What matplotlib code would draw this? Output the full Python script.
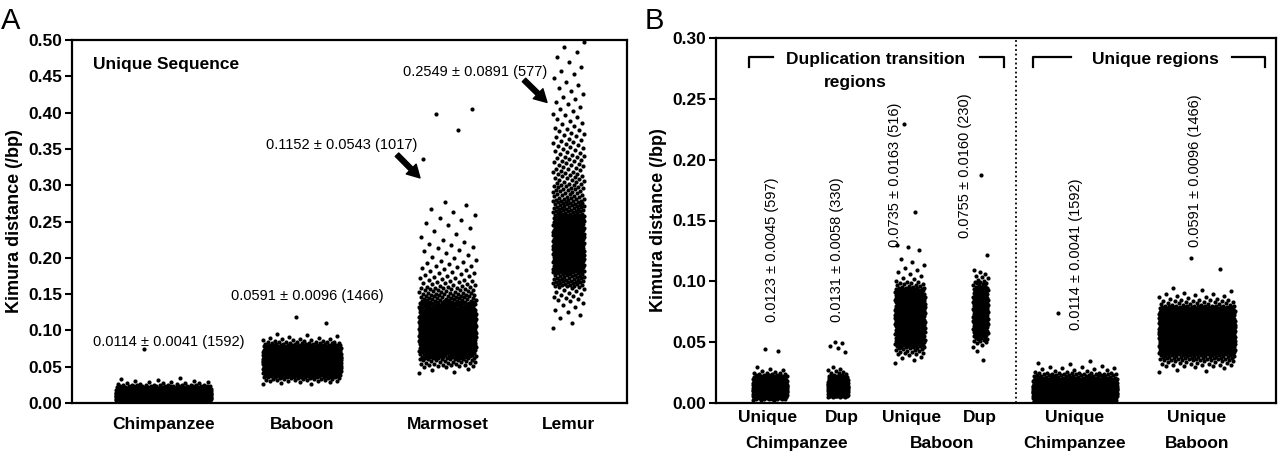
import numpy as np
import matplotlib.pyplot as plt

plt.rcParams['font.family'] = ['Liberation Sans', 'DejaVu Sans']

chimp_start, chimp_step = 0.0, 0.005
chimp_counts = [100, 600, 600, 220, 55, 12, 4]
chimp_out = [0.074]

baboon_start, baboon_step = 0.025, 0.005
baboon_counts = [5, 20, 45, 95, 160, 220, 250, 240, 190, 130, 70, 25, 10, 4]
baboon_out = [0.110, 0.119]

marmoset_start, marmoset_step = 0.04, 0.01
marmoset_counts = [5, 25, 50, 85, 120, 150, 155, 140, 100, 60, 35, 25, 15, 10, 8, 6,
                   4, 5, 3, 2, 3, 3, 2, 2]
marmoset_out = [0.336, 0.376, 0.398, 0.405]

lemur_start, lemur_step = 0.10, 0.02
lemur_counts = [3, 6, 15, 45, 80, 102, 90, 65, 45, 30, 22, 18, 15, 12, 8, 6, 5, 4, 3, 3]
lemur_out = []

# panel B, duplication transition regions
chimp_uniq_start, chimp_uniq_step = 0.0025, 0.0025
chimp_uniq_counts = [20, 60, 110, 130, 115, 75, 45, 25, 10, 3, 2]
chimp_uniq_out = [0.043, 0.044]

chimp_dup_start, chimp_dup_step = 0.005, 0.0025
chimp_dup_counts = [30, 55, 72, 65, 45, 30, 18, 5, 3, 2]
chimp_dup_out = [0.042, 0.045, 0.047, 0.049, 0.050]

baboon_uniq_start, baboon_uniq_step = 0.03, 0.005
baboon_uniq_counts = [1, 4, 12, 25, 35, 45, 55, 62, 62, 60, 52, 45, 30, 12, 4, 3, 2, 2]
baboon_uniq_out = [0.126, 0.128, 0.130, 0.157, 0.229]

baboon_dup_start, baboon_dup_step = 0.045, 0.005
baboon_dup_counts = [3, 10, 18, 25, 28, 28, 28, 28, 22, 18, 10, 5, 3]
baboon_dup_out = [0.035, 0.043, 0.122, 0.187]

labels_a = ["Chimpanzee", "Baboon", "Marmoset", "Lemur"]
stats_a = ["0.0114 ± 0.0041 (1592)", "0.0591 ± 0.0096 (1466)",
           "0.1152 ± 0.0543 (1017)", "0.2549 ± 0.0891 (577)"]
sub_b = ["Unique", "Dup", "Unique", "Dup", "Unique", "Unique"]
stats_b = ["0.0123 ± 0.0045 (597)", "0.0131 ± 0.0058 (330)", "0.0735 ± 0.0163 (516)",
           "0.0755 ± 0.0160 (230)", "0.0114 ± 0.0041 (1592)", "0.0591 ± 0.0096 (1466)"]


def expand(start, step, counts, outliers):
    vals = []
    for i, c in enumerate(counts):
        lo = start + i * step
        vals.extend(lo + (np.arange(c) + 0.5) / c * step)
    vals.extend(outliers)
    return np.array(vals)


def strip(ax, vals, center, width):
    k = np.arange(len(vals))
    u = (k * 0.6180339887) % 1.0  # even spread across the strip
    ax.scatter(center + width * (u - 0.5), vals, s=9, c="black", linewidths=0)


def style(ax, ymax):
    for sp in ax.spines.values():
        sp.set_linewidth(1.6)
    ax.set_ylim(0, ymax)
    ax.set_yticks(np.arange(0, ymax + 0.001, 0.05))
    ax.set_yticklabels([f"{v:.2f}" for v in np.arange(0, ymax + 0.001, 0.05)],
                       fontweight="bold", fontsize=12.5)
    ax.tick_params(axis="y", direction="out", length=5, width=1.5, pad=2)
    ax.set_xticks([])
    ax.set_ylabel("Kimura distance (/bp)", fontsize=13, fontweight="bold", labelpad=4)


fig = plt.figure(figsize=(12.8, 4.54), dpi=100)
axA = fig.add_axes([72 / 1280, 51 / 454, 555 / 1280, 363 / 454])
axB = fig.add_axes([716 / 1280, 51 / 454, 560 / 1280, 365 / 454])

# ---- Panel A
groups_a = [
    (expand(chimp_start, chimp_step, chimp_counts, chimp_out), 0.915, 0.95),
    (expand(baboon_start, baboon_step, baboon_counts, baboon_out), 2.30, 0.78),
    (expand(marmoset_start, marmoset_step, marmoset_counts, marmoset_out), 3.755, 0.57),
    (expand(lemur_start, lemur_step, lemur_counts, lemur_out), 4.965, 0.32),
]
for vals, c, w in groups_a:
    strip(axA, vals, c, w)
axA.set_xlim(0, 5.55)
style(axA, 0.5)
xt = axA.get_xaxis_transform()
for (vals, c, w), lab in zip(groups_a, labels_a):
    axA.text(c, -0.06, lab, transform=xt, ha="center", va="center",
             fontsize=12.5, fontweight="bold")

axA.text(0.21, 0.4656, "Unique Sequence", ha="left", va="center",
         fontsize=12.5, fontweight="bold")
axA.text(0.965, 0.084, stats_a[0], ha="center", va="center", fontsize=10.5)
axA.text(2.35, 0.147, stats_a[1], ha="center", va="center", fontsize=10.5)
axA.text(2.70, 0.355, stats_a[2], ha="center", va="center", fontsize=10.5)
axA.text(4.03, 0.456, stats_a[3], ha="center", va="center", fontsize=10.5)
arrow = dict(facecolor="black", edgecolor="black", width=3.5, headwidth=10,
             headlength=9, shrink=0)
axA.annotate("", xy=(3.48, 0.310), xytext=(3.25, 0.342), arrowprops=arrow)
axA.annotate("", xy=(4.75, 0.414), xytext=(4.52, 0.445), arrowprops=arrow)

# ---- Panel B
groups_b = [
    (expand(chimp_uniq_start, chimp_uniq_step, chimp_uniq_counts, chimp_uniq_out), 0.54, 0.34),
    (expand(chimp_dup_start, chimp_dup_step, chimp_dup_counts, chimp_dup_out), 1.22, 0.20),
    (expand(baboon_uniq_start, baboon_uniq_step, baboon_uniq_counts, baboon_uniq_out), 1.94, 0.30),
    (expand(baboon_dup_start, baboon_dup_step, baboon_dup_counts, baboon_dup_out), 2.645, 0.15),
    (expand(chimp_start, chimp_step, chimp_counts, chimp_out), 3.59, 0.84),
    (expand(baboon_start, baboon_step, baboon_counts, baboon_out), 4.81, 0.76),
]
for vals, c, w in groups_b:
    strip(axB, vals, c, w)
axB.set_xlim(0, 5.60)
style(axB, 0.3)
axB.axvline(3.0, color="black", linestyle=(0, (1, 1.5)), linewidth=1.3)

xt = axB.get_xaxis_transform()
sub_x = [0.52, 1.26, 1.96, 2.64, 3.59, 4.81]
for x, lab in zip(sub_x, sub_b):
    axB.text(x, -0.041, lab, transform=xt, ha="center", va="center",
             fontsize=12.5, fontweight="bold")
for x, lab in zip([0.81, 2.26, 3.59, 4.81], ["Chimpanzee", "Baboon", "Chimpanzee", "Baboon"]):
    axB.text(x, -0.110, lab, transform=xt, ha="center", va="center",
             fontsize=12.5, fontweight="bold")

stat_pos = [(0.56, 0.0666), (1.21, 0.0666), (1.79, 0.128), (2.49, 0.1356),
            (3.60, 0.060), (4.79, 0.128)]
for (x, y), s in zip(stat_pos, stats_b):
    axB.text(x, y, s, rotation=90, ha="center", va="bottom", fontsize=10.5)

# brackets over the two region groups
yb_top, yb_low = 0.2844, 0.2762
for x0, x1, x2, x3 in [(0.33, 0.57, 2.64, 2.88), (3.17, 3.55, 5.16, 5.49)]:
    axB.plot([x0, x0, x1], [yb_low, yb_top, yb_top], color="black", lw=1.6)
    axB.plot([x2, x3, x3], [yb_top, yb_top, yb_low], color="black", lw=1.6)
axB.text(1.60, 0.282, "Duplication transition", ha="center", va="center",
         fontsize=12.5, fontweight="bold")
axB.text(1.39, 0.2638, "regions", ha="center", va="center", fontsize=12.5, fontweight="bold")
axB.text(4.39, 0.282, "Unique regions", ha="center", va="center",
         fontsize=12.5, fontweight="bold")

fig.text(0.001, 0.985, "A", fontsize=21, ha="left", va="top")
fig.text(645 / 1280, 0.985, "B", fontsize=21, ha="left", va="top")

fig.savefig("out.png", dpi=100)
